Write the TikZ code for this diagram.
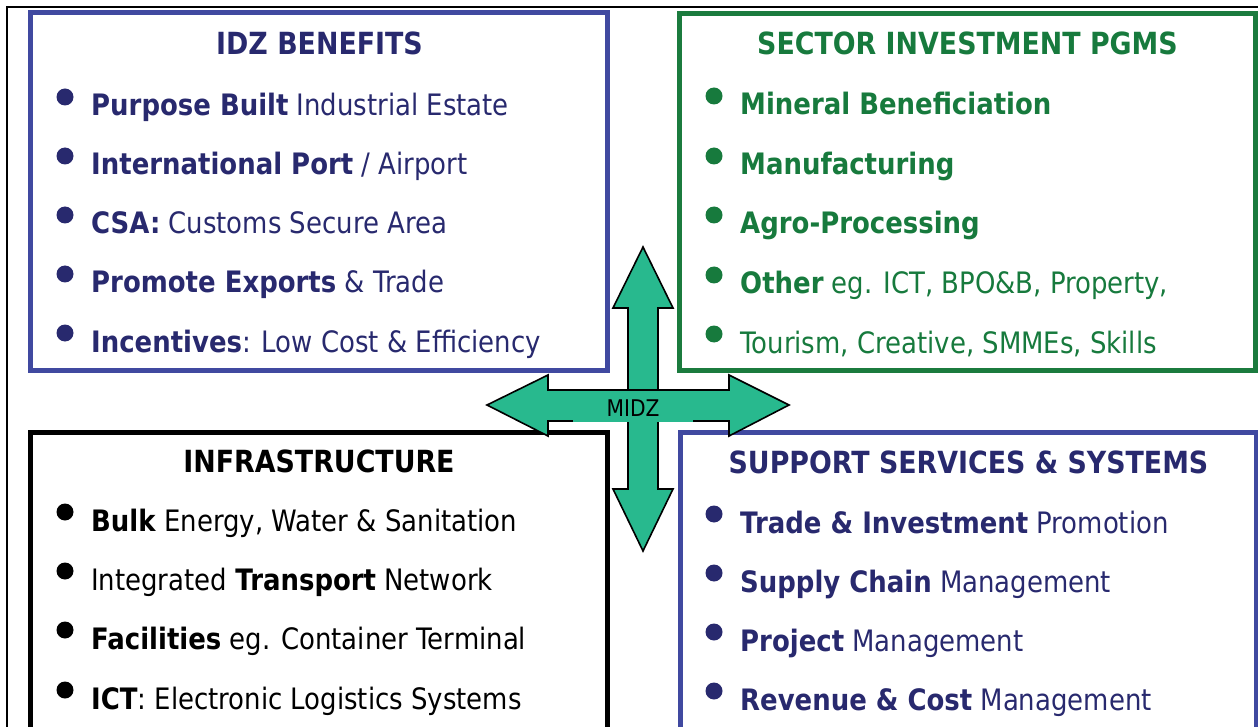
\documentclass[tikz,border=0pt]{standalone}
\usepackage{fontspec}
\setmainfont{DejaVu Sans}[FakeStretch=0.88]
\definecolor{boxblue}{HTML}{4049A0}
\definecolor{txtblue}{HTML}{28296E}
\definecolor{boxgreen}{HTML}{1B7B3E}
\definecolor{txtgreen}{HTML}{177A3D}
\definecolor{arrowfill}{HTML}{28B98E}
\newcommand{\itemsize}{\fontsize{29.5}{35}\selectfont}
\newcommand{\headsize}{\fontsize{30.5}{36}\selectfont}
\begin{document}
\begin{tikzpicture}[x=1pt,y=-1pt,
  panel/.style={line width=5pt},
  heading/.style={anchor=base, font=\headsize\bfseries, inner sep=0pt},
  entry/.style={anchor=base west, font=\itemsize, inner sep=0pt},
  dot/.style={circle, inner sep=0pt, minimum size=17pt},
  crossarrow/.style={draw=black, line width=1.6pt, fill=arrowfill, line join=miter}]
\useasboundingbox (0,0) rectangle (1258,727);
\begin{scope}
  \clip (0,0) rectangle (1258,727);
  % outer frame
  \draw[line width=2pt] (7,7) rectangle (1280,760);
  % four panels
  \draw[panel, draw=boxblue] (30,13) rectangle (607,370);
  \draw[panel, draw=boxgreen] (679.5,14) rectangle (1255.5,370);
  \draw[panel, draw=black] (30,432) rectangle (607,729);
  \draw[panel, draw=boxblue] (680,432) rectangle (1256,729);
\end{scope}

% central cross of double arrows
\draw[crossarrow] (643,247) -- (673,308) -- (658,308) -- (658,489) -- (673,489)
  -- (643,551) -- (613,489) -- (628,489) -- (628,308) -- (613,308) -- cycle;
\draw[crossarrow] (487,405) -- (548,375) -- (548,390) -- (729,390) -- (729,375)
  -- (789,405) -- (729,436) -- (729,421) -- (548,421) -- (548,436) -- cycle;
\node[fill=arrowfill, minimum width=120pt, minimum height=28pt, inner sep=0pt,
  font=\fontsize{23}{27}\selectfont] (midz) at (633,408) {MIDZ};

% IDZ benefits
\node[heading, text=txtblue] (idzt) at (319.5,55) {IDZ BENEFITS};
\foreach \y/\n/\t in {116/1/{\textbf{Purpose Built} Industrial Estate},
    175/2/{\textbf{International Port} / Airport},
    234/3/{\textbf{CSA:} Customs Secure Area},
    293/4/{\textbf{Promote Exports} \& Trade},
    352/5/{\textbf{Incentives}: Low Cost \& Efficiency}}{
  \node[dot, fill=txtblue] (idzb\n) at (65,\y-19) {};
  \node[entry, text=txtblue] (idz\n) at (91,\y) {\t};
}

% sector investment programmes
\node[heading, text=txtgreen] (sect) at (967.5,55) {SECTOR INVESTMENT PGMS};
\foreach \y/\n/\t in {115/1/{\textbf{Mineral Beneficiation}},
    175/2/{\textbf{Manufacturing}},
    234/3/{\textbf{Agro-Processing}},
    294/4/{\textbf{Other} eg. ICT, BPO\&B, Property,},
    353/5/{Tourism, Creative, SMMEs, Skills}}{
  \node[dot, fill=txtgreen] (secb\n) at (714,\y-19) {};
  \node[entry, text=txtgreen] (sec\n) at (740,\y) {\t};
}

% infrastructure
\node[heading, text=black] (inft) at (319,472) {INFRASTRUCTURE};
\foreach \y/\n/\t in {531/1/{\textbf{Bulk} Energy, Water \& Sanitation},
    590/2/{Integrated \textbf{Transport} Network},
    649/3/{\textbf{Facilities} eg. Container Terminal},
    709/4/{\textbf{ICT}: Electronic Logistics Systems}}{
  \node[dot, fill=black] (infb\n) at (65,\y-19) {};
  \node[entry, text=black] (inf\n) at (91,\y) {\t};
}

% support services
\node[heading, text=txtblue] (supt) at (968.5,473) {SUPPORT SERVICES \& SYSTEMS};
\foreach \y/\n/\t in {533/1/{\textbf{Trade \& Investment} Promotion},
    592/2/{\textbf{Supply Chain} Management},
    651/3/{\textbf{Project} Management},
    710/4/{\textbf{Revenue \& Cost} Management}}{
  \node[dot, fill=txtblue] (supb\n) at (714,\y-19) {};
  \node[entry, text=txtblue] (sup\n) at (740,\y) {\t};
}
\end{tikzpicture}
\end{document}
